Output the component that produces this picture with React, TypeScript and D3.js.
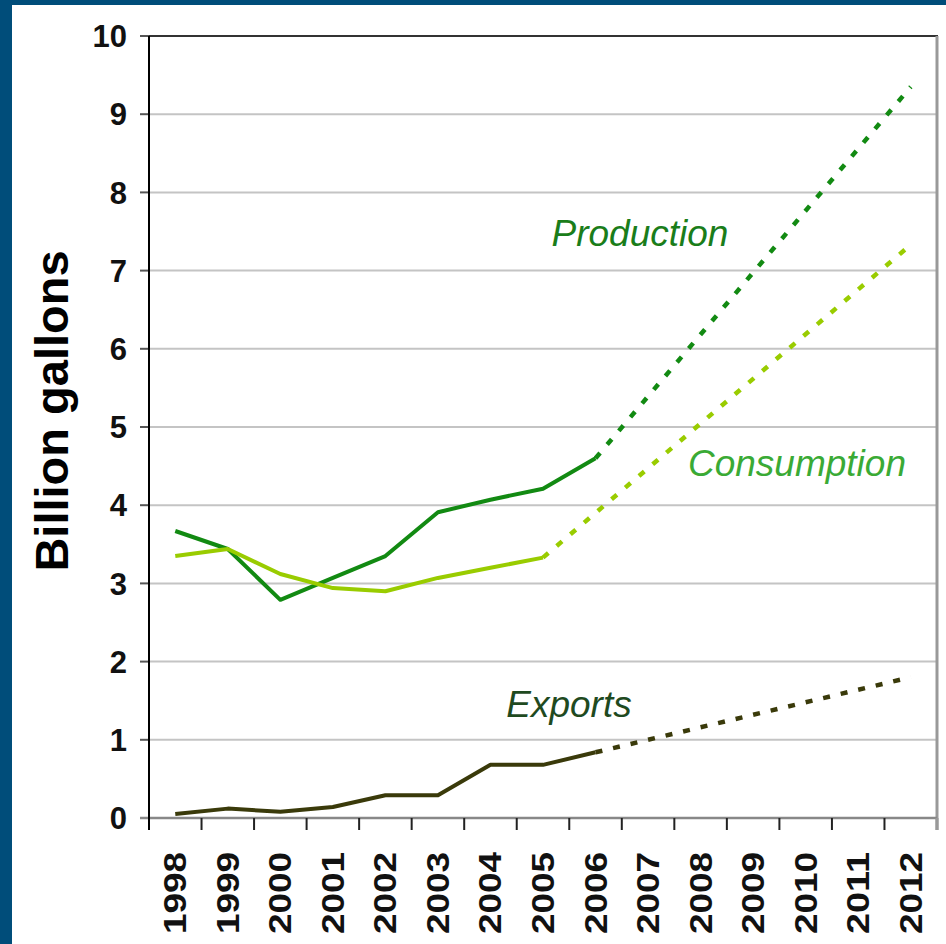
import React from 'react';
import * as d3 from 'd3';

// years on the x axis
const years = ['1998', '1999', '2000', '2001', '2002', '2003', '2004', '2005', '2006', '2007', '2008', '2009', '2010', '2011', '2012'];
const yTicks = [0, 1, 2, 3, 4, 5, 6, 7, 8, 9, 10];

// actual values (billion gallons)
const production = [
  { year: '1998', v: 3.67 }, { year: '1999', v: 3.44 }, { year: '2000', v: 2.79 },
  { year: '2001', v: 3.07 }, { year: '2002', v: 3.35 }, { year: '2003', v: 3.91 },
  { year: '2004', v: 4.07 }, { year: '2005', v: 4.21 }, { year: '2006', v: 4.6 },
];
const consumption = [
  { year: '1998', v: 3.35 }, { year: '1999', v: 3.44 }, { year: '2000', v: 3.12 },
  { year: '2001', v: 2.94 }, { year: '2002', v: 2.9 }, { year: '2003', v: 3.07 },
  { year: '2004', v: 3.2 }, { year: '2005', v: 3.33 },
];
const exportsData = [
  { year: '1998', v: 0.05 }, { year: '1999', v: 0.12 }, { year: '2000', v: 0.08 },
  { year: '2001', v: 0.14 }, { year: '2002', v: 0.29 }, { year: '2003', v: 0.29 },
  { year: '2004', v: 0.68 }, { year: '2005', v: 0.68 }, { year: '2006', v: 0.84 },
];

// projections (dashed)
const productionProj = [{ year: '2006', v: 4.6 }, { year: '2012', v: 9.35 }];
const consumptionProj = [{ year: '2005', v: 3.33 }, { year: '2012', v: 7.33 }];
const exportsProj = [{ year: '2006', v: 0.84 }, { year: '2012', v: 1.8 }];

export default function App() {
  const W = 946;
  const H = 944;
  const left = 149;
  const right = 937;
  const top = 36;
  const bottom = 818;

  const x = d3.scaleBand().domain(years).range([left, right]).padding(0);
  const y = d3.scaleLinear().domain([0, 10]).range([bottom, top]);
  const cx = (yr: string) => (x(yr) as number) + x.bandwidth() / 2;

  const line = d3
    .line<any>()
    .x((d: any) => cx(d.year))
    .y((d: any) => y(d.v));

  const font = 'Liberation Sans, Arial, sans-serif';

  const series = [
    { data: production, proj: productionProj, color: '#128a12' },
    { data: consumption, proj: consumptionProj, color: '#99cc00' },
    { data: exportsData, proj: exportsProj, color: '#3a3a0a' },
  ];

  return (
    <svg width={W} height={H} style={{ position: 'absolute', left: 0, top: 0 }}>
      <rect x={0} y={0} width={W} height={H} fill="#004d7a" />
      <rect x={12} y={5} width={W - 12} height={H - 5} fill="#ffffff" />

      {/* gridlines */}
      {yTicks.slice(1, -1).map((t) => (
        <line key={t} x1={left} x2={right} y1={y(t)} y2={y(t)} stroke="#c4c4c4" strokeWidth={2} />
      ))}
      <line x1={left - 9} x2={right + 1} y1={y(10)} y2={y(10)} stroke="#333" strokeWidth={2} />
      <line x1={right} x2={right} y1={top} y2={bottom + 12} stroke="#999" strokeWidth={3} />

      {/* y ticks + labels */}
      {yTicks.map((t) => (
        <g key={t}>
          <line x1={left - 9} x2={left} y1={y(t)} y2={y(t)} stroke="#555" strokeWidth={2} />
          <text x={127} y={y(t)} dy="0.36em" textAnchor="end" fontFamily={font} fontWeight="bold" fontSize={31} fill="#111">
            {t}
          </text>
        </g>
      ))}

      {/* x axis */}
      <line x1={left - 9} x2={right} y1={bottom} y2={bottom} stroke="#888" strokeWidth={2.5} />
      {years.map((yr) => (
        <line key={yr} x1={x(yr) as number} x2={x(yr) as number} y1={bottom} y2={bottom + 12} stroke="#222" strokeWidth={2} />
      ))}
      <line x1={right} x2={right} y1={bottom} y2={bottom + 12} stroke="#999" strokeWidth={3} />
      {years.map((yr) => (
        <text
          key={'l' + yr}
          transform={`translate(${cx(yr) + 11},${852}) rotate(-90)`}
          textAnchor="end"
          fontFamily={font}
          fontWeight="bold"
          fontSize={32}
          textLength={82}
          lengthAdjust="spacingAndGlyphs"
          fill="#111"
        >
          {yr}
        </text>
      ))}
      <line x1={left} x2={left} y1={top} y2={bottom + 12} stroke="#000" strokeWidth={2} />

      {/* y title */}
      <text transform="translate(68,411) rotate(-90)" textAnchor="middle" fontFamily={font} fontWeight="bold" fontSize={47} fill="#000">
        Billion gallons
      </text>

      {/* series */}
      {series.map((s, i) => (
        <g key={i}>
          <path d={line(s.proj) as string} fill="none" stroke={s.color} strokeWidth={4.5} strokeDasharray="7 11" />
          <path d={line(s.data) as string} fill="none" stroke={s.color} strokeWidth={4} strokeLinejoin="round" />
        </g>
      ))}

      {/* labels */}
      <text x={640} y={246} textAnchor="middle" fontFamily={font} fontStyle="italic" fontSize={37} fill="#1a7d1a">
        Production
      </text>
      <text x={797} y={476} textAnchor="middle" fontFamily={font} fontStyle="italic" fontSize={37} fill="#3aaa35">
        Consumption
      </text>
      <text x={569} y={717} textAnchor="middle" fontFamily={font} fontStyle="italic" fontSize={37} fill="#1f4a1f">
        Exports
      </text>
    </svg>
  );
}
